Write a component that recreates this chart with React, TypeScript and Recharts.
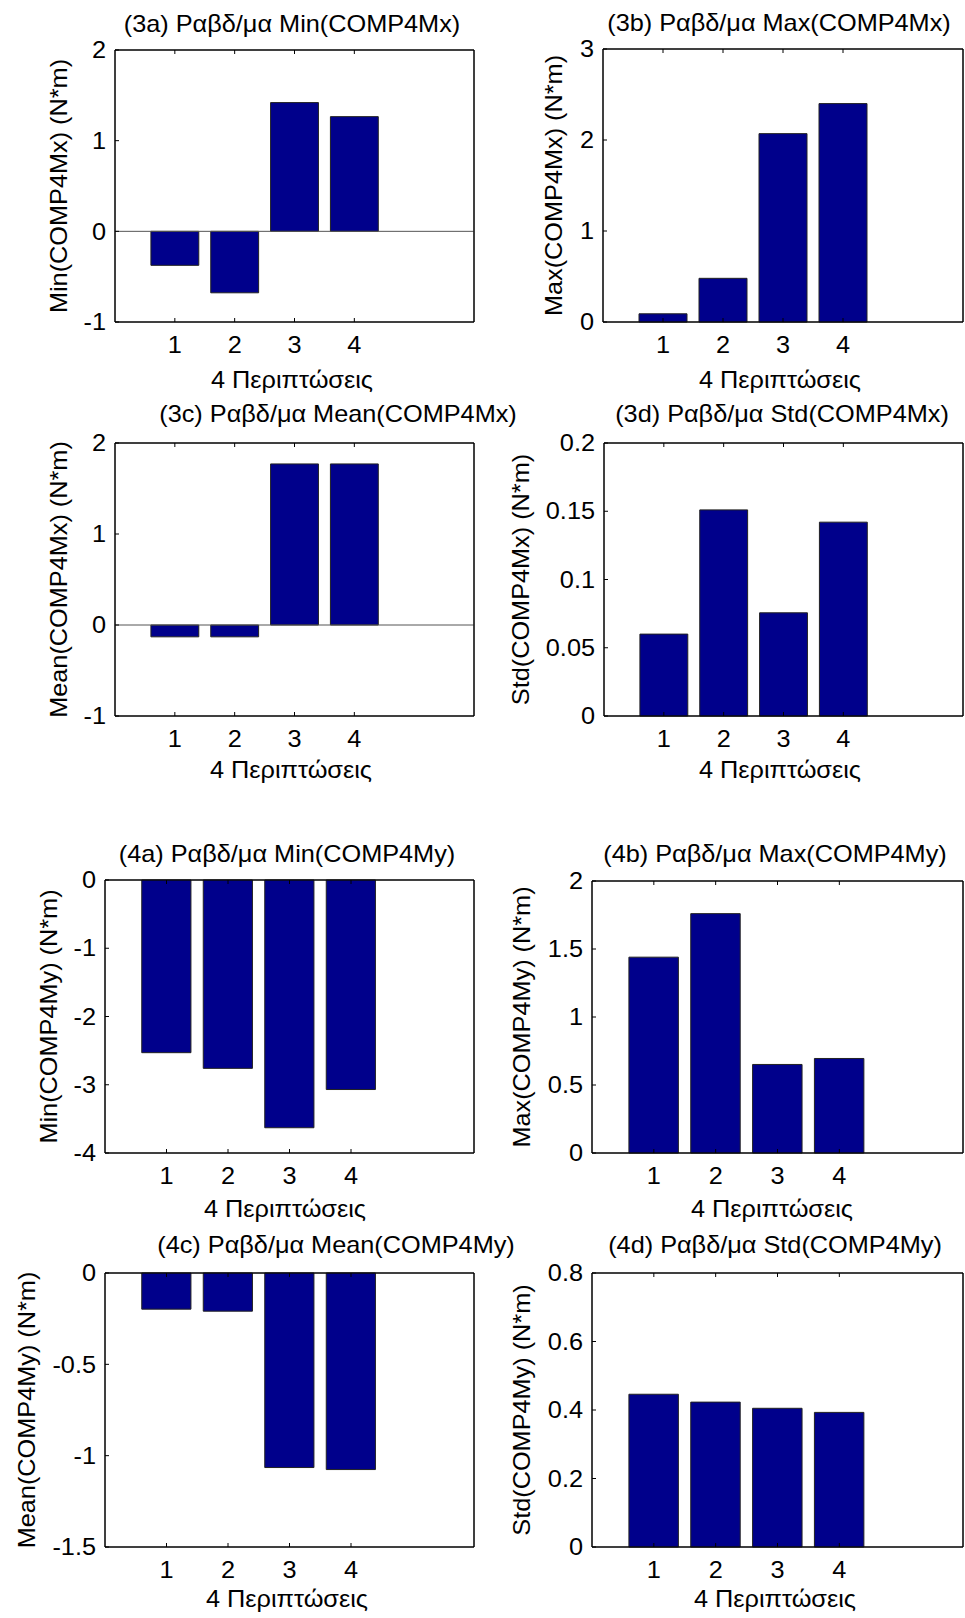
import React from "react";
import { BarChart, Bar, XAxis, YAxis, ReferenceLine, ReferenceArea } from "recharts";

// 4 cases on the x axis
const cases = [1, 2, 3, 4];

// COMP4Mx statistics (N*m)
const minMx = [-0.375, -0.678, 1.42, 1.265];
const maxMx = [0.09, 0.48, 2.07, 2.4];
const meanMx = [-0.13, -0.13, 1.77, 1.77];
const stdMx = [0.06, 0.151, 0.0756, 0.142];

// COMP4My statistics (N*m)
const minMy = [-2.53, -2.76, -3.63, -3.07];
const maxMy = [1.44, 1.76, 0.651, 0.695];
const meanMy = [-0.198, -0.209, -1.065, -1.076];
const stdMy = [0.446, 0.423, 0.405, 0.393];

// y tick labels per panel
const ticks3a = [-1, 0, 1, 2];
const ticks3b = [0, 1, 2, 3];
const ticks3c = [-1, 0, 1, 2];
const ticks3d = [0, 0.05, 0.1, 0.15, 0.2];
const ticks4a = [-4, -3, -2, -1, 0];
const ticks4b = [0, 0.5, 1, 1.5, 2];
const ticks4c = [-1.5, -1, -0.5, 0];
const ticks4d = [0, 0.2, 0.4, 0.6, 0.8];

const xLabel = "4 Περιπτώσεις";

const FONT = '"Liberation Sans", Arial, Helvetica, sans-serif';
const BAR_FILL = "#00008b";
const STRETCH = 1.1;
const FS = 23;

type PanelDef = {
  title: string;
  yLabel: string;
  values: number[];
  ticks: number[];
  box: [number, number, number, number]; // left, top, right, bottom of plot area
  titleX: number;
  titleY: number;
  yLabelX: number;
  xLabelX: number;
  xLabelY: number;
};

const panels: PanelDef[] = [
  { title: "(3a) Ραβδ/μα Min(COMP4Mx)", yLabel: "Min(COMP4Mx)  (N*m)", values: minMx, ticks: ticks3a,
    box: [115, 50, 474, 322], titleX: 292, titleY: 32, yLabelX: 67, xLabelX: 292, xLabelY: 388 },
  { title: "(3b) Ραβδ/μα Max(COMP4Mx)", yLabel: "Max(COMP4Mx)  (N*m)", values: maxMx, ticks: ticks3b,
    box: [603, 49, 963, 322], titleX: 779, titleY: 31, yLabelX: 562, xLabelX: 780, xLabelY: 388 },
  { title: "(3c) Ραβδ/μα Mean(COMP4Mx)", yLabel: "Mean(COMP4Mx)  (N*m)", values: meanMx, ticks: ticks3c,
    box: [115, 443, 474, 716], titleX: 338, titleY: 422, yLabelX: 67, xLabelX: 291, xLabelY: 778 },
  { title: "(3d) Ραβδ/μα Std(COMP4Mx)", yLabel: "Std(COMP4Mx)  (N*m)", values: stdMx, ticks: ticks3d,
    box: [604, 443, 963, 716], titleX: 782, titleY: 422, yLabelX: 529, xLabelX: 780, xLabelY: 778 },
  { title: "(4a) Ραβδ/μα Min(COMP4My)", yLabel: "Min(COMP4My) (N*m)", values: minMy, ticks: ticks4a,
    box: [105, 880, 474, 1153], titleX: 287, titleY: 862, yLabelX: 57, xLabelX: 285, xLabelY: 1217 },
  { title: "(4b) Ραβδ/μα Max(COMP4My)", yLabel: "Max(COMP4My) (N*m)", values: maxMy, ticks: ticks4b,
    box: [592, 881, 963, 1153], titleX: 775, titleY: 862, yLabelX: 530, xLabelX: 772, xLabelY: 1217 },
  { title: "(4c) Ραβδ/μα Mean(COMP4My)", yLabel: "Mean(COMP4My) (N*m)", values: meanMy, ticks: ticks4c,
    box: [105, 1273, 474, 1547], titleX: 336, titleY: 1253, yLabelX: 35, xLabelX: 287, xLabelY: 1607 },
  { title: "(4d) Ραβδ/μα Std(COMP4My)", yLabel: "Std(COMP4My) (N*m)", values: stdMy, ticks: ticks4d,
    box: [592, 1273, 963, 1547], titleX: 775, titleY: 1253, yLabelX: 530, xLabelX: 775, xLabelY: 1607 },
];

// tick label renderers (text slightly stretched like the original export)
function XTick(props: any) {
  const { x, y, payload } = props;
  return (
    <text transform={`translate(${x},${y}) scale(${STRETCH},1)`} textAnchor="middle" fontSize={FS} fontFamily={FONT} fill="#000">
      {payload.value}
    </text>
  );
}

function YTick(props: any) {
  const { x, y, payload } = props;
  return (
    <text transform={`translate(${x},${y}) scale(${STRETCH},1)`} textAnchor="end" dy="0.355em" fontSize={FS} fontFamily={FONT} fill="#000">
      {payload.value}
    </text>
  );
}

function Panel({ p }: { p: PanelDef }) {
  const [L, T, R, B] = p.box;
  const padL = 75;
  const padT = 25;
  const padR = 2;
  const padB = 45;
  const W = R - L;
  const H = B - T;
  const data = cases.map((c, i) => ({ x: c, v: p.values[i] }));
  const domain: [number, number] = [p.ticks[0], p.ticks[p.ticks.length - 1]];
  const crossesZero = domain[0] < 0 && domain[1] > 0;

  return (
    <div style={{ position: "absolute", left: L - padL, top: T - padT }}>
      <BarChart
        width={W + padL + padR}
        height={H + padT + padB}
        data={data}
        margin={{ top: padT - 1, right: padR - 1, left: 0, bottom: 0 }}
      >
        <XAxis
          xAxisId="b"
          dataKey="x"
          type="number"
          domain={[0, 6]}
          ticks={cases}
          interval={0}
          height={padB}
          tickSize={-4}
          tickMargin={35}
          axisLine={{ stroke: "#000" }}
          tickLine={{ stroke: "#000" }}
          tick={<XTick />}
        />
        <XAxis
          xAxisId="t"
          orientation="top"
          dataKey="x"
          type="number"
          domain={[0, 6]}
          ticks={cases}
          interval={0}
          height={1}
          tickSize={-4}
          axisLine={{ stroke: "#000" }}
          tickLine={{ stroke: "#000" }}
          tick={() => <g />}
        />
        <YAxis
          yAxisId="l"
          type="number"
          domain={domain}
          ticks={p.ticks}
          interval={0}
          width={padL}
          tickSize={-4}
          tickMargin={13}
          axisLine={{ stroke: "#000" }}
          tickLine={{ stroke: "#000" }}
          tick={<YTick />}
        />
        <YAxis
          yAxisId="r"
          orientation="right"
          type="number"
          domain={domain}
          ticks={p.ticks}
          interval={0}
          width={1}
          tickSize={-4}
          axisLine={{ stroke: "#000" }}
          tickLine={{ stroke: "#000" }}
          tick={() => <g />}
        />
        <ReferenceArea
          xAxisId="b"
          yAxisId="l"
          x1={0}
          x2={6}
          y1={domain[0]}
          y2={domain[1]}
          fill="none"
          fillOpacity={0}
          stroke="#000"
          strokeWidth={1}
          ifOverflow="visible"
        />
        {crossesZero && (
          <ReferenceLine xAxisId="b" yAxisId="l" y={0} stroke="#555" strokeWidth={1} />
        )}
        <Bar
          xAxisId="b"
          yAxisId="l"
          dataKey="v"
          fill={BAR_FILL}
          stroke="#222"
          strokeWidth={1}
          barSize={(W / 6) * 0.8}
          isAnimationActive={false}
        />
      </BarChart>
    </div>
  );
}

export default function App() {
  return (
    <div
      style={{
        position: "absolute",
        left: 0,
        top: 0,
        width: 965,
        height: 1618,
        background: "#fff",
        fontFamily: FONT,
      }}
    >
      {panels.map((p, i) => (
        <Panel key={i} p={p} />
      ))}
      <svg
        width={965}
        height={1618}
        style={{ position: "absolute", left: 0, top: 0, pointerEvents: "none" }}
      >
        {panels.map((p, i) => {
          const cy = (p.box[1] + p.box[3]) / 2;
          return (
            <g key={i} fontFamily={FONT} fontSize={FS} fill="#000" style={{ whiteSpace: "pre" }}>
              <text textAnchor="middle" transform={`translate(${p.titleX},${p.titleY}) scale(${STRETCH},1)`}>
                {p.title}
              </text>
              <text textAnchor="middle" transform={`translate(${p.xLabelX},${p.xLabelY}) scale(${STRETCH},1)`}>
                {xLabel}
              </text>
              <text
                textAnchor="middle"
                transform={`translate(${p.yLabelX},${cy}) rotate(-90) scale(${STRETCH},1)`}
              >
                {p.yLabel}
              </text>
            </g>
          );
        })}
      </svg>
    </div>
  );
}
